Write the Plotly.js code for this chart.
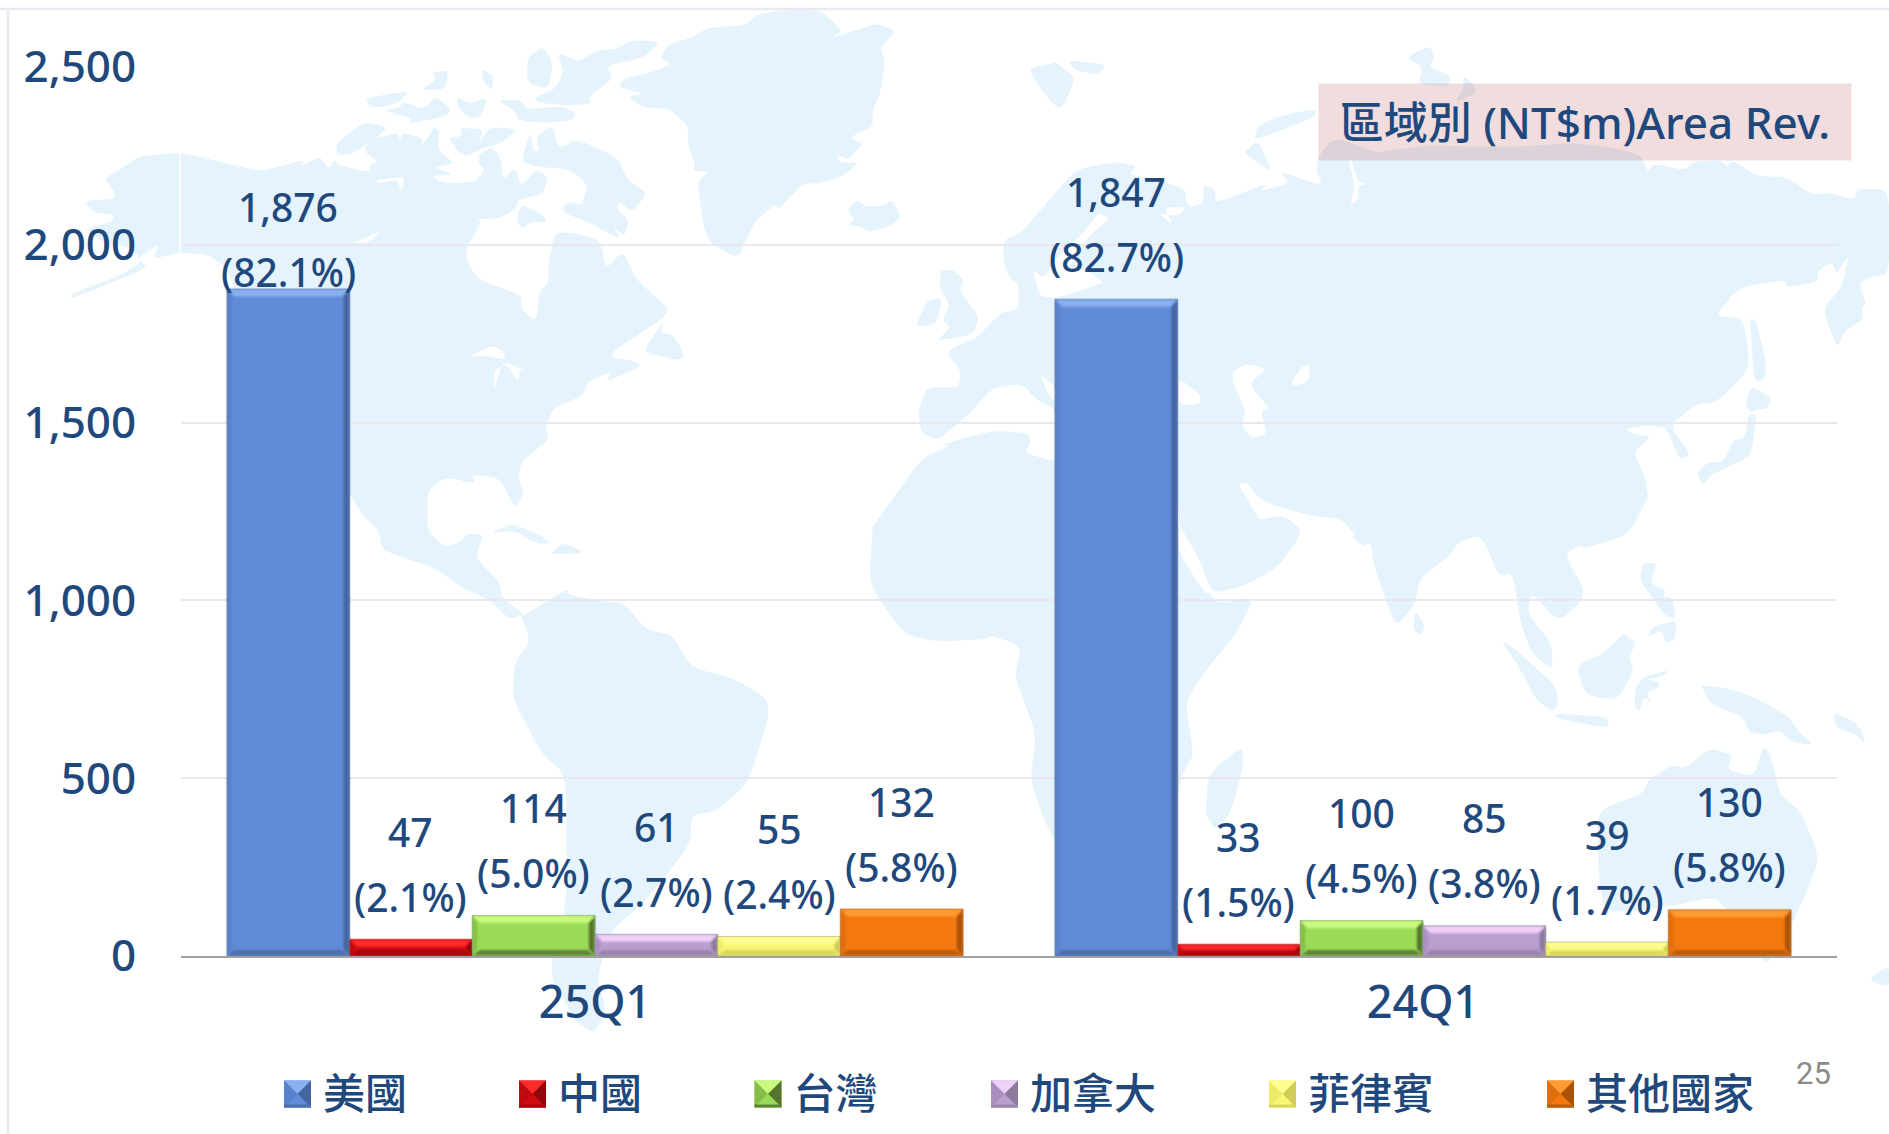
<!DOCTYPE html>
<html>
<head>
<meta charset="utf-8">
<script src="https://cdn.plot.ly/plotly-3.0.1.min.js"></script>
<style>
html,body{margin:0;padding:0;background:#fff;width:1889px;height:1134px;overflow:hidden}
#map{position:absolute;left:0;top:0;width:1889px;height:1134px;z-index:0}
#chart{position:absolute;left:0;top:0;width:1889px;height:1134px;z-index:1}
</style>
</head>
<body>
<svg id="map" xmlns="http://www.w3.org/2000/svg" viewBox="0 0 1889 1134"></svg>
<div id="chart"></div>
<script>
// ---- chart data ----
const quarters = ['25Q1', '24Q1'];
const regions = ['美國', '中國', '台灣', '加拿大', '菲律賓', '其他國家'];
const usa = [1876, 1847];
const china = [47, 33];
const taiwan = [114, 100];
const canada = [61, 85];
const philippines = [55, 39];
const others = [132, 130];
const usaPct = ['(82.1%)', '(82.7%)'];
const chinaPct = ['(2.1%)', '(1.5%)'];
const taiwanPct = ['(5.0%)', '(4.5%)'];
const canadaPct = ['(2.7%)', '(3.8%)'];
const philippinesPct = ['(2.4%)', '(1.7%)'];
const othersPct = ['(5.8%)', '(5.8%)'];
const yTicks = [0, 500, 1000, 1500, 2000, 2500];
const titleText = '區域別 (NT$m)Area Rev.';
const pageNumber = '25';

const seriesValues = [usa, china, taiwan, canada, philippines, others];
const seriesPct = [usaPct, chinaPct, taiwanPct, canadaPct, philippinesPct, othersPct];
const INK = '#1f497d';
const LATIN = '"Noto Sans","Noto Sans CJK TC",sans-serif';
const CJK = '"Noto Sans CJK TC","Noto Sans",sans-serif';
const bevels = [
  {face:'#5f8bd8', top:'#8ab0f2', bottom:'#4d70ab', left:'#5a82c9', right:'#46669f'},
  {face:'#d10a12', top:'#ff2b2b', bottom:'#a30a0e', left:'#c00a10', right:'#8f080c'},
  {face:'#9bdb57', top:'#c9fa80', bottom:'#5e8437', left:'#85bc4a', right:'#54742f'},
  {face:'#b89fcf', top:'#eed0f8', bottom:'#9a84ab', left:'#a98fc0', right:'#8b7a9a'},
  {face:'#f8f672', top:'#fdfd90', bottom:'#d8d55c', left:'#ecea66', right:'#cfcc58'},
  {face:'#f3780f', top:'#ff9b32', bottom:'#bc5d0b', left:'#e06e0c', right:'#a95308'}
];

// ---- background world map (decoration) ----
const z5 = a => pairs(a, (x,y) => [x/1.65, y/2.75]);
const z6 = a => pairs(a, (x,y) => [x/1.652+940, y/2.75]);
const z7 = a => pairs(a, (x,y) => [x/1.65+400, y/2.473+500]);
const z8 = a => pairs(a, (x,y) => [x/2.276+1200, y/3+480]);
const full = a => pairs(a, (x,y) => [x,y]);
function pairs(a,f){const o=[];for(let i=0;i<a.length;i+=2)o.push(f(a[i],a[i+1]));return o;}

const land = [
 // North and Central America
 [...z5([298,420,260,425,230,430,195,470,172,490,190,530,188,547,138,552,155,585,188,590,185,610,140,630,175,670,215,680,235,720,195,760,115,810,120,820,245,735,225,712,265,670,250,712,298,695,345,700,375,740,400,850,450,1000,500,1200,570,1340,600,1420,625,1460,630,1510]),
  ...z7([0,140,60,170,100,215,150,250,180,295,200,285,205,285,168,240,165,205]),
  ...z5([800,1560,785,1530,798,1470,770,1468,760,1490,735,1505,705,1460,705,1350,735,1312,785,1330,778,1305,825,1315,850,1400,865,1350,855,1320,860,1270,905,1210,900,1170,915,1120,960,1090,970,1050,1010,1020,1000,1050,1060,1005,1040,990,1008,985,1015,960,1090,880,1105,850,1050,770,1027,690,1000,740,990,660,945,640,915,640,905,725,905,780,890,800,885,885,860,850,860,810,790,770,770,720,770,680,795,610,785,603,825,600,850,575,855,548,895,535,905,490,885,465,860,515,850,460,830,495,825,430,810,405,790,425,790,450,800,465,785,500,735,505,710,485,750,480,715,460,750,450,722,410,725,365,718,345,695,405,698,380,665,365,660,385,655,365,610,385,600,415,625,448,612,450,610,475,560,455,552,440,542,465,528,430,497,458,500,440,470,455,430,470,400,460,340,435])],
 // South America
 z7([205,285,275,220,280,235,330,250,370,255,405,320,450,335,480,415,550,440,615,500,575,700,520,770,480,780,480,850,400,1000,350,1060,325,1180,340,1260,320,1320,290,1290,245,1170,275,1000,275,680,235,630,185,490,190,400,215,350,200,285]),
 // Arctic islands
 z5([603,270,675,250,660,280,630,295,610,293]),
 z5([665,280,700,300,718,265,745,300,735,320,675,340,680,325,632,305,660,295]),
 z5([695,248,720,220,713,200,740,193,735,245]),
 z5([755,268,775,285,805,268,793,322,775,325,755,295]),
 z5([795,188,815,210,812,248,797,225]),
 z5([820,275,860,275,870,300,925,292,950,310,945,330,900,338,855,332,850,305]),
 z5([870,160,897,128,912,175,905,245,870,228]),
 z5([880,270,915,245,930,200,920,145,955,170,985,138,1015,135,1045,110,1090,115,1060,160,1000,180,1012,215,970,268,978,285,930,290,890,282]),
 z5([555,395,600,335,640,350,620,380,605,395,580,425,555,425]),
 z5([740,380,762,375,760,352,797,355,790,395,808,350,855,355,825,395,800,405,770,430,755,415]),
 z5([860,445,875,360,880,415,890,415,885,375,912,345,920,405,935,400,945,385,970,395,1020,435,1035,495,1068,530,1043,585,1020,552,1020,580,1038,605,1030,650,1010,620,1025,660,970,610,930,585,930,565,945,555,960,565,970,510,945,470,920,462,890,460]),
 z5([860,560,900,597,900,612,875,610,862,632,852,605]),
 // Greenland, Iceland, Newfoundland, Caribbean
 z5([1105,120,1140,105,1170,75,1230,70,1250,40,1290,28,1355,28,1390,85,1370,105,1420,80,1445,65,1480,85,1452,130,1460,170,1452,260,1440,300,1440,350,1410,370,1405,385,1425,392,1400,440,1380,425,1385,447,1418,448,1390,485,1350,505,1325,505,1285,575,1280,560,1245,610,1225,680,1222,700,1210,705,1165,660,1150,500,1170,472,1145,470,1145,440,1135,400,1135,345,1105,300,1060,295,1035,265,1065,258,1020,240,1030,215,1060,205,1090,190,1108,175,1088,160]),
 z5([1415,548,1428,568,1460,565,1470,548,1487,595,1470,620,1435,638,1420,622,1398,620,1410,605,1398,575]),
 z5([1095,885,1060,968,1105,985,1120,990,1130,975,1110,920,1090,915]),
 z5([808,1465,845,1440,890,1470,910,1495,885,1495,850,1460]),
 z5([910,1520,930,1492,965,1520,912,1525]),
 // UK, Ireland
 [...z6([0,745,20,740,40,770,32,800,65,870,55,920,0,935]), ...z5([1548,935,1568,900,1555,880,1568,840,1550,790,1552,760])],
 z5([1530,825,1555,820,1545,890,1510,900]),
 // Svalbard etc.
 z6([145,188,185,175,190,170,225,215,200,305,175,265]),
 z6([210,165,275,178,262,205,225,195]),
 z6([770,158,808,125,818,155,808,185,845,210,838,240,790,230,798,185]),
 z6([865,205,890,250,850,285,865,240]),
 z6([520,380,525,345,570,315,622,300,620,320,555,365,525,380]),
 z6([502,420,525,385,550,475,510,430]),
 // Eurasia
 [...z6([190,1125,160,1100,135,1055,85,1068,50,1135,0,1205]),
  ...z5([1540,1205,1520,1190,1515,1130,1530,1065,1568,1065]),
  ...z6([30,1065,35,1020,10,970,35,945,60,930,100,860,130,850,130,780,115,765,105,720,105,660,135,640,185,540,225,465,290,445,325,455,312,480,350,490,405,520,410,570,435,560,435,510,455,520,455,555,470,550,540,505,530,525,578,505,560,470,632,512,622,470,625,430,650,380,685,395,720,420,760,410,800,400,950,404,1044,393,1105,404,1158,426,1170,475,1178,450,1230,468,1245,445,1290,440,1300,460,1310,440,1350,485,1395,485,1440,535,1470,530,1510,550,1515,520,1568,520,1568,755,1535,762,1518,780,1530,835,1522,845,1525,878,1495,910,1482,958,1458,850,1490,790,1502,700,1480,755,1475,720,1450,745,1450,775,1400,790,1395,770,1320,790,1280,870,1325,875,1335,950,1335,1020,1280,1110,1250,1110,1205,1170,1240,1250,1222,1265,1200,1175,1170,1170,1130,1180,1150,1195,1175,1200,1145,1245,1165,1310,1170,1370]),
  ...z8([1020,50,975,165,875,205,862,195,830,225,875,330,865,370,815,425,755,335,745,400,800,490,803,570,755,520,730,430,712,280,680,288,640,165,588,185,570,225,500,295,490,370,447,440,420,350,395,250,390,190,370,198,345,170,355,165,320,115,265,110,170,78,130,50,110,10,85,10,125,95,135,120,190,105,235,155,175,265,95,320,27,340,0,240]),
  ...z7([1285,60,1285,0]), ...z6([300,1200,190,1180])],
 // Japan, Sakhalin
 z6([1338,875,1348,880,1365,1000,1362,1045,1345,1050]),
 z6([1340,1062,1375,1095,1365,1125,1350,1125,1340,1135,1330,1110]),
 z6([1350,1140,1340,1250,1320,1270,1275,1305,1260,1335,1250,1300,1270,1270,1295,1270,1310,1210,1330,1205,1335,1140]),
 // Africa
 [...z5([1440,1450,1520,1260,1568,1225]),
  ...z6([0,1225,50,1200,90,1185,145,1190,150,1215,140,1245,190,1270,300,1300]),
  ...z7([1285,60,1310,140,1335,230,1350,255,1410,240,1380,330,1330,420,1295,500,1310,630,1290,680,1280,760,1190,860,1082,850,1060,780,1040,690,1050,580,1020,460,1015,430,1025,360,975,335,965,345,880,350,830,330,780,220,775,180,780,65])],
 z8([95,800,100,850,70,1000,35,1050,12,1000,20,880]),
 z8([490,390,513,440,500,467,485,445]),
 // South East Asia
 z8([1008,250,1040,248,1025,310,1060,330,1055,350,1075,355,1083,415,1060,410,1000,300]),
 z8([1018,470,1030,440,1085,420,1080,480,1060,490,1050,450]),
 z8([683,478,720,510,770,570,810,620,815,670,805,695,765,660,730,570]),
 z8([808,700,930,712,928,745,810,715]),
 z8([965,458,993,490,975,530,988,570,950,660,880,645,860,580,865,550,920,520]),
 z8([990,625,1010,590,1070,570,1050,590,1015,598,1045,605,1045,620,1015,640,1028,670,1010,650,1000,695,990,680]),
 z8([1140,615,1200,625,1260,650,1340,710,1365,760,1398,795,1345,785,1320,750,1285,765,1250,755,1235,710,1160,670,1150,640]),
 z8([1440,695,1490,725,1510,760,1512,790,1490,760,1450,745]),
 // Australia
 z8([1075,855,1105,865,1160,805,1212,825,1200,870,1260,890,1283,795,1300,830,1320,945,1365,990,1410,1130,1380,1240,1340,1350,1300,1410,1200,1290,1170,1250,1065,1280,920,1300,905,1150,905,990,1010,940,1020,900]),
 z8([1270,1425,1305,1425,1290,1450]),
 full([1868,980,1889,965,1889,987])
];
const water = [
 z5([775,980,810,950,830,965,835,990,800,978]),
 z5([815,1075,815,1020,835,1000,855,1050,857,1015,870,1022,840,1000,828,1000]),
 z5([580,670,630,635,610,665]),
 z5([620,495,668,485,663,528,655,495,622,505]),
 z5([760,480,775,450,790,480,783,500]),
 z6([165,815,152,740,172,765,192,710,240,635,262,585,282,600,245,650,225,710,210,740,245,745,270,775,250,790,190,820]),
 z6([360,585,395,595,412,550,405,525,408,570,370,570,385,620]),
 z6([483,1020,510,1000,540,1015,510,1055,545,1125,530,1130,540,1195,515,1205,498,1170,505,1130,485,1060]),
 z6([600,1005,612,1005,608,1050,585,1062,580,1050]),
 z6([165,1030,190,1060,190,1110,175,1070]),
 z6([394,1040,430,1085,430,1112,394,1115]),
 z6([125,1155,130,1115,140,1115,135,1158]),
 z6([680,440,690,500,705,505,690,512,692,545,678,565,685,510,675,440]),
 z7([1285,60,1340,228,1330,232,1310,190,1285,130])
];
const mapSvg = document.getElementById('map');
function addBlob(pts, fill){
  // rounded corners give the coastline its soft look
  const n = pts.length, t = 0.3;
  const lerp = (a,b,k) => [a[0]+(b[0]-a[0])*k, a[1]+(b[1]-a[1])*k];
  let d = '';
  for (let i = 0; i < n; i++) {
    const prev = pts[(i+n-1)%n], cur = pts[i], next = pts[(i+1)%n];
    const a = lerp(cur, prev, t), b = lerp(cur, next, t);
    d += (i ? 'L' : 'M') + a[0].toFixed(1) + ',' + a[1].toFixed(1) +
         'Q' + cur[0].toFixed(1) + ',' + cur[1].toFixed(1) + ' ' + b[0].toFixed(1) + ',' + b[1].toFixed(1);
  }
  const p = document.createElementNS('http://www.w3.org/2000/svg','path');
  p.setAttribute('d', d + 'Z');
  p.setAttribute('fill', fill);
  mapSvg.appendChild(p);
}
land.forEach(p => addBlob(p, '#e4f3fc'));
water.forEach(p => addBlob(p, '#ffffff'));
[[180,153,180,253,'#ffffff',1.5],[0,9,1889,9,'#e9e9f1',2.5],[8,9,8,1134,'#e9e9f1',2.5]].forEach(l => {
  const e = document.createElementNS('http://www.w3.org/2000/svg','line');
  e.setAttribute('x1',l[0]);e.setAttribute('y1',l[1]);e.setAttribute('x2',l[2]);e.setAttribute('y2',l[3]);
  e.setAttribute('stroke',l[4]);e.setAttribute('stroke-width',l[5]);
  mapSvg.appendChild(e);
});

// ---- chart ----
const BARGAP = 0.111;
const barStep = (1 - BARGAP) / regions.length;
const traces = regions.map((name, s) => ({
  type: 'bar', name, x: quarters, y: seriesValues[s],
  marker: {color: bevels[s].face, line: {color: 'rgba(120,120,120,0.55)', width: 1}},
  hoverinfo: 'skip'
}));
const annotations = [];
regions.forEach((name, s) => {
  quarters.forEach((q, c) => {
    const x = c + (s - (regions.length - 1) / 2) * barStep;
    const v = seriesValues[s][c];
    const tight = (s === 0 && c === 0);           // the tallest bar's labels sit lower in the reference
    const shiftPct = tight ? 17.5 : 43, shiftVal = tight ? 82.5 : 108;
    annotations.push({x, y: v, xref: 'x', yref: 'y', yshift: shiftVal, showarrow: false, yanchor: 'middle',
      text: v.toLocaleString('en-US'), font: {family: LATIN, size: 39, color: INK, weight: 500}});
    annotations.push({x, y: v, xref: 'x', yref: 'y', yshift: shiftPct, showarrow: false, yanchor: 'middle',
      text: seriesPct[s][c], font: {family: LATIN, size: 39, color: INK, weight: 500}});
  });
});
annotations.push({xref: 'paper', yref: 'paper', x: (1584.5-181)/1656, y: (956-122)/889, xanchor: 'center', yanchor: 'middle',
  text: titleText, showarrow: false, width: 530, height: 74, bgcolor: 'rgba(190,100,100,0.22)',
  font: {family: LATIN, size: 44, color: INK, weight: 500}});
annotations.push({xref: 'paper', yref: 'paper', x: (1813-181)/1656, y: (956-1073)/889, xanchor: 'center', yanchor: 'middle',
  text: pageNumber, showarrow: false, font: {family: 'Roboto, sans-serif', size: 31, color: '#8b8b8b'}});

const layout = {
  width: 1889, height: 1134,
  margin: {l: 181, r: 52, t: 67, b: 178, pad: 0},
  paper_bgcolor: 'rgba(0,0,0,0)', plot_bgcolor: 'rgba(0,0,0,0)',
  barmode: 'group', bargap: BARGAP, bargroupgap: 0,
  hovermode: false,
  font: {family: LATIN, color: INK},
  xaxis: {type: 'category', categoryorder: 'array', categoryarray: quarters, range: [-0.5, 1.5],
    showgrid: false, zeroline: false, showline: true, linecolor: '#a0a0a0', linewidth: 2,
    ticks: 'outside', ticklen: 6, tickcolor: 'rgba(0,0,0,0)', tickfont: {family: LATIN, size: 45, color: INK, weight: 500}},
  yaxis: {range: [0, 2500], tickvals: yTicks, tickformat: ',d', showgrid: true, gridcolor: '#ebe7ef', gridwidth: 2,
    zeroline: false, showline: false, ticks: 'outside', ticklen: 35, tickcolor: 'rgba(0,0,0,0)',
    tickfont: {family: LATIN, size: 44, color: INK, weight: 500}},
  showlegend: true,
  legend: {orientation: 'h', x: 0, xref: 'container', y: 0.035, yref: 'container', yanchor: 'middle', xanchor: 'left',
    entrywidth: 250, entrywidthmode: 'pixels', traceorder: 'normal', itemclick: false, itemdoubleclick: false,
    font: {family: CJK, size: 42, color: INK, weight: 500}, bgcolor: 'rgba(0,0,0,0)'},
  annotations
};

const SVGNS = 'http://www.w3.org/2000/svg';
function poly(parent, pts, fill, soft){
  const p = document.createElementNS(SVGNS,'polygon');
  p.setAttribute('points', pts.map(q => q.join(',')).join(' '));
  p.setAttribute('style', 'fill:'+fill+';stroke:none;pointer-events:none' + (soft ? ';filter:blur(0.9px)' : ''));
  parent.appendChild(p);
}
function bevelBar(path, st){
  const b = path.getBBox();
  if (b.height <= 0) return;
  const x0=b.x+0.5, x1=b.x+b.width-0.5, y0=b.y+0.5, y1=b.y+b.height-0.5;
  const d = Math.min(7, b.height/2.4);
  const g = path.parentNode;
  poly(g, [[x0,y0],[x0+d*0.6,y0+d],[x0+d*0.6,y1-d],[x0,y1]], st.left, true);
  poly(g, [[x1,y0],[x1-d*0.8,y0+d],[x1-d*0.8,y1-d],[x1,y1]], st.right, true);
  poly(g, [[x0,y0],[x1,y0],[x1-d,y0+d],[x0+d,y0+d]], st.top, true);
  poly(g, [[x0,y1],[x1,y1],[x1-d,y1-d*0.8],[x0+d,y1-d*0.8]], st.bottom, true);
}
const legendLeft = [284, 519, 754.5, 991, 1269, 1547];

Plotly.newPlot('chart', traces, layout, {displayModeBar: false, staticPlot: false}).then(gd => {
  // bevel of the bars, measured from the bars Plotly drew
  gd.querySelectorAll('.barlayer .trace').forEach((tr, s) => {
    tr.querySelectorAll('.point path').forEach(p => bevelBar(p, bevels[s]));
  });
  // legend swatches and spacing
  const root = gd.querySelector('.legend');
  root.querySelectorAll('[clip-path]').forEach(e => e.removeAttribute('clip-path'));
  root.querySelectorAll('.scrollbox').forEach(e => { e.style.clipPath = 'none'; });
  root.querySelectorAll('.traces').forEach((item, s) => {
    const sw = item.querySelector('.legendpoints path');
    const S = 27, m = S/2;
    sw.setAttribute('d', 'M0,-13.5h27v27h-27z');
    sw.setAttribute('transform', '');
    sw.style.strokeWidth = '0';
    const g = sw.parentNode;
    const st = bevels[s];
    poly(g, [[0,-m],[S,-m],[m,0]], st.top, false);
    poly(g, [[0,-m],[m,0],[0,m]], st.left, false);
    poly(g, [[S,-m],[S,m],[m,0]], st.right, false);
    poly(g, [[0,m],[S,m],[m,0]], st.face, false);
    poly(g, [[0,m-3],[S,m-3],[S,m],[0,m]], st.bottom, false);
    const txt = item.querySelector('.legendtext');
    txt.setAttribute('x', S + 12);
    const yNow = parseFloat(txt.getAttribute('y') || 0);
    txt.setAttribute('y', yNow - 1);
    const r = sw.getBoundingClientRect();
    const mt = /translate\(([-\d.]+)[ ,]*([-\d.]*)\)/.exec(item.getAttribute('transform') || '');
    const cx = mt ? parseFloat(mt[1]) : 0, cy = mt && mt[2] ? parseFloat(mt[2]) : 0;
    const dx = legendLeft[s] - r.left, dy = 1094 - (r.top + r.height/2);
    item.setAttribute('transform', 'translate(' + (cx+dx) + ',' + (cy+dy) + ')');
    const tg = item.querySelector('.legendtoggle');
    if (tg) tg.style.display = 'none';
  });
});
</script>
</body>
</html>
